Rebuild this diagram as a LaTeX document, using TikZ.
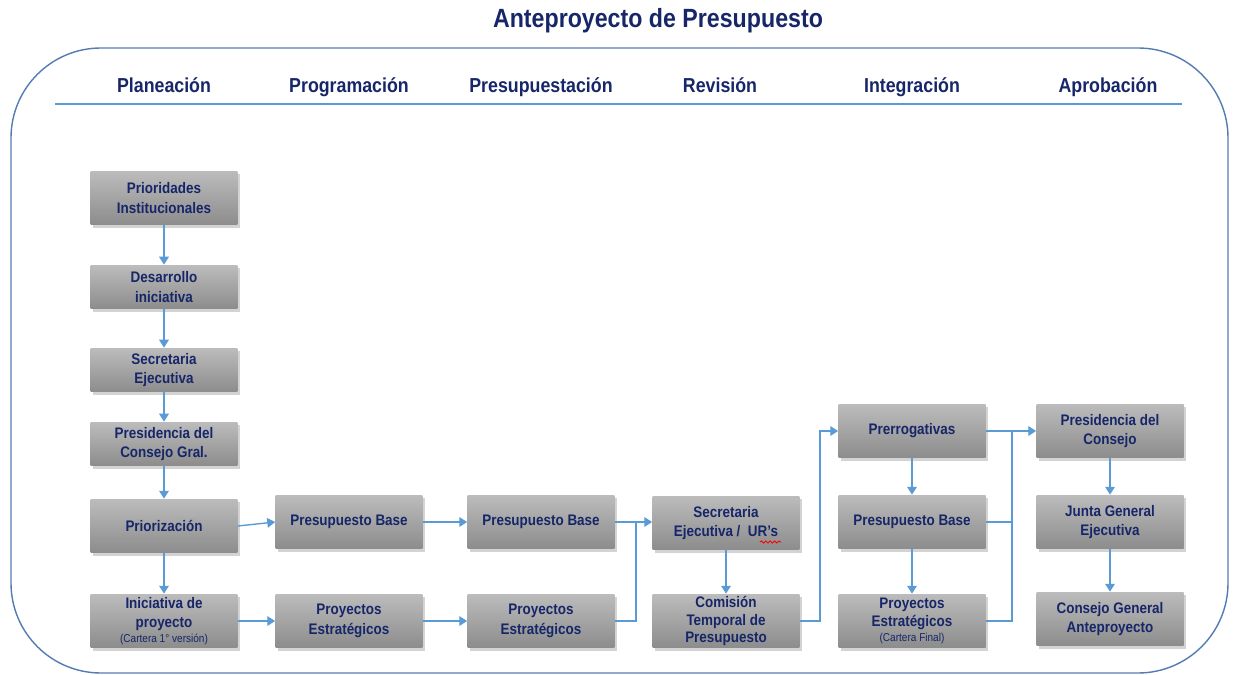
\documentclass[tikz,border=0pt]{standalone}
\usepackage{fontspec}
\setmainfont{Liberation Sans}[FakeStretch=0.88]
\usetikzlibrary{arrows.meta,shadows,decorations.pathmorphing}
\definecolor{navy}{RGB}{22,38,104}
\definecolor{lineblue}{RGB}{91,155,213}
\definecolor{frameblue}{RGB}{84,124,178}
\definecolor{boxtop}{RGB}{188,188,188}
\definecolor{boxbot}{RGB}{140,140,140}
\tikzset{
  box/.style={rectangle, draw=none, top color=boxtop, bottom color=boxbot,
    minimum width=2.94cm, minimum height=1.08cm, inner sep=1pt, align=center,
    text=navy, font=\bfseries\fontsize{8.7}{11.3}\selectfont,
    drop shadow={opacity=0.35, shadow xshift=1.2pt, shadow yshift=-1.5pt}},
  sbox/.style={box, minimum height=0.88cm},
  hdr/.style={text=navy, anchor=base, font=\bfseries\fontsize{11.5}{13}\selectfont},
  conn/.style={draw=lineblue, line width=0.8pt},
  arr/.style={conn, -{Triangle[width=5.5pt,length=4.5pt]}}
}
\begin{document}
\begin{tikzpicture}[x=0.02cm,y=-0.02cm]
\useasboundingbox (0,0) rectangle (1233,675);
% frame
\draw[frameblue, line width=0.8pt, rounded corners=1.8cm] (11,48) rectangle (1228,673);
% title
\node[text=navy, anchor=base, font=\bfseries\fontsize{15}{17}\selectfont] (title) at (658,28) {Anteproyecto de Presupuesto};
% headers
\node[hdr] (h1) at (164,93) {Planeación};
\node[hdr] (h2) at (349,93) {Programación};
\node[hdr] (h3) at (541,93) {Presupuestación};
\node[hdr] (h4) at (720,93) {Revisión};
\node[hdr] (h5) at (912,93) {Integración};
\node[hdr] (h6) at (1108,93) {Aprobación};
\coordinate (hl) at (55,104);
\coordinate (hr) at (1182,104);
\draw[lineblue, line width=0.9pt] (hl) -- (hr);
% column 1
\node[box] (p1) at (164,198) {Prioridades\\Institucionales};
\node[sbox] (p2) at (164,287) {Desarrollo\\iniciativa};
\node[sbox] (p3) at (164,370) {Secretaria\\Ejecutiva};
\node[sbox] (p4) at (164,444) {Presidencia del\\Consejo Gral.};
\node[box] (p5) at (164,526) {Priorización};
\node[box, font=\bfseries\fontsize{8.7}{10.5}\selectfont] (p6) at (164,621) {Iniciativa de\\proyecto\\[-2pt]{\mdseries\fontsize{6.5}{7}\selectfont (Cartera 1° versión)}};
% column 2
\node[box] (g1) at (349,522) {Presupuesto Base};
\node[box] (g2) at (349,621) {Proyectos\\Estratégicos};
% column 3
\node[box] (e1) at (541,522) {Presupuesto Base};
\node[box] (e2) at (541,621) {Proyectos\\Estratégicos};
% column 4
\node[box] (r1) at (726,523) {Secretaria\\Ejecutiva /\ \ UR’s};
\node[box, font=\bfseries\fontsize{8.7}{10.2}\selectfont] (r2) at (726,621) {Comisión\\Temporal de\\Presupuesto};
% column 5
\node[box] (i1) at (912,431) {Prerrogativas};
\node[box] (i2) at (912,522) {Presupuesto Base};
\node[box, font=\bfseries\fontsize{8.7}{10.5}\selectfont] (i3) at (912,621) {Proyectos\\Estratégicos\\[-2pt]{\mdseries\fontsize{6.5}{7}\selectfont (Cartera Final)}};
% column 6
\node[box] (a1) at (1110,431) {Presidencia del\\Consejo};
\node[box] (a2) at (1110,522) {Junta General\\Ejecutiva};
\node[box] (a3) at (1110,619) {Consejo General\\Anteproyecto};
% spell-check underline
\coordinate (sq1) at (760,542);
\coordinate (sq2) at (781,542);
\draw[red, line width=0.5pt, decorate, decoration={snake, amplitude=0.6pt, segment length=2.5pt}] (sq1) -- (sq2);
% connectors column 1
\draw[arr] (p1) -- (p2);
\draw[arr] (p2) -- (p3);
\draw[arr] (p3) -- (p4);
\draw[arr] (p4) -- (p5);
\draw[arr] (p5) -- (p6);
% to column 2
\draw[arr] (p5.east) -- (g1.west);
\draw[arr] (p6.east) -- (g2.west);
% to column 3
\draw[arr] (g1) -- (e1);
\draw[arr] (g2) -- (e2);
% to column 4
\coordinate (j1) at (636,522);
\draw[arr] (e1.east) -- (r1.west |- e1.east);
\draw[conn] (e2.east) -| (j1);
\draw[arr] (r1) -- (r2);
% to column 5
\coordinate (j2) at (820,621);
\draw[arr] (r2.east) -- (j2) |- (i1.west);
\draw[arr] (i1) -- (i2);
\draw[arr] (i2) -- (i3);
% to column 6
\coordinate (j3) at (1012,431);
\draw[arr] (i1.east) -- (a1.west);
\draw[conn] (i2.east) -| (j3);
\draw[conn] (i3.east) -| (j3);
\draw[arr] (a1) -- (a2);
\draw[arr] (a2) -- (a3);
\end{tikzpicture}
\end{document}
